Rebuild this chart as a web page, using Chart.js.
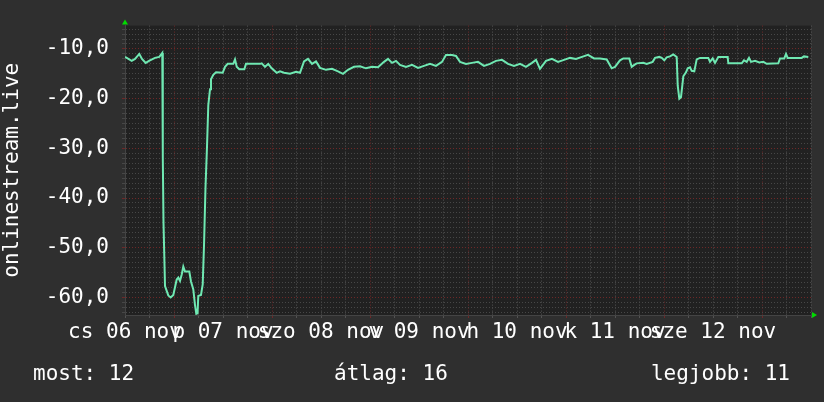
<!DOCTYPE html>
<html><head><meta charset="utf-8">
<script src="https://cdn.jsdelivr.net/npm/chart.js@4.4.1/dist/chart.umd.min.js"></script>
<style>html,body{margin:0;padding:0;background:#2f2f2f;overflow:hidden}canvas{display:block}</style>
</head><body>
<canvas id="c" width="824" height="402"></canvas>
<script>
// time in hours since Thu 06 Nov 12:00
const hours = [0,1.64,2.45,3.5,4.16,5.07,5.88,7.35,8.4,9.13,9.26,9.43,9.8,10.6,11.19,11.83,12.66,13.05,13.47,13.89,14.28,14.69,15.75,16.16,16.73,17.14,17.46,17.76,17.95,18.61,19.03,19.35,19.71,20.08,20.4,20.82,21.06,21.62,22.29,23.93,24.49,25.15,26.52,26.94,27.36,27.99,29.22,29.63,33.06,33.48,34.29,35.09,35.93,37.15,37.96,
38.94,40.41,41.88,42.86,43.84,44.82,45.8,46.78,47.76,49.22,50.69,52.16,53.39,54.61,56.08,57.55,59.02,60.49,61.96,63.43,64.41,65.39,66.37,67.35,68.82,70.29,71.76,73.22,74.69,76.16,77.63,78.61,80.08,81.06,82.04,83.51,84.98,86.45,87.92,89.39,90.86,92.33,93.8,95.27,96.74,98.2,99.67,100.65,101.63,103.1,104.57,106.04,107.51,108.98,110.45,111.92,113.39,114.86,
116.33,117.97,119.19,120,121.22,122.03,123.5,124.09,124.73,125.31,126.93,127.76,129.23,129.8,130.85,131.44,132.07,132.66,133.47,134.28,135.11,135.36,135.75,136.16,136.48,136.73,137.39,137.81,138.37,138.78,139.42,140.01,140.82,142.85,143.27,143.93,144.49,145.3,147.6,147.75,151.03,151.59,152.25,152.82,153.31,154.29,155.34,156.32,157.15,159.99,160.41,161.46,161.88,162.29,165.72,166.28,167.34];
const values = [-11.6,-12.4,-12.0,-11.0,-12.0,-12.8,-12.4,-11.8,-11.6,-10.8,-32.0,-45,-57.7,-59.6,-60.0,-59.5,-56.4,-56.0,-56.7,-55.4,-53.8,-54.8,-54.8,-56.8,-58.4,-61.5,-63.3,-63.2,-59.7,-59.5,-57.4,-49.5,-38,-29.7,-21.3,-18.1,-16.1,-15.2,-14.7,-14.8,-13.6,-13.0,-13.0,-12.1,-13.6,-14.1,-14.1,-13.0,-13.0,-12.9,-13.6,-13.0,-13.9,-14.8,-14.5,
-14.8,-15.0,-14.6,-14.8,-12.5,-12.0,-13.0,-12.5,-13.8,-14.2,-14.0,-14.5,-15.0,-14.2,-13.6,-13.5,-13.9,-13.6,-13.7,-12.6,-12.0,-12.8,-12.4,-13.2,-13.6,-13.2,-13.8,-13.4,-13.0,-13.4,-12.6,-11.2,-11.2,-11.4,-12.6,-13.0,-12.8,-12.6,-13.4,-13.0,-12.4,-12.2,-13.0,-13.4,-13.0,-13.6,-12.8,-12.2,-14.0,-12.4,-12.0,-12.6,-12.2,-11.8,-12.0,-11.6,-11.2,-11.9,
-11.9,-12.1,-13.9,-13.6,-12.3,-11.9,-11.9,-13.6,-13.2,-12.9,-12.8,-13.0,-12.6,-11.8,-11.6,-11.8,-12.3,-11.7,-11.5,-11.1,-11.6,-17.4,-20.0,-19.7,-17.4,-15.5,-14.7,-13.9,-13.7,-14.4,-14.5,-12.1,-11.8,-11.8,-12.6,-11.9,-12.8,-11.6,-11.6,-12.9,-12.9,-12.3,-12.6,-11.8,-12.6,-12.4,-12.7,-12.6,-13.0,-12.9,-11.9,-11.9,-11.0,-11.8,-11.8,-11.5,-11.6];

const dayLabels = ['cs 06 nov','p 07 nov','szo 08 nov','v 09 nov','h 10 nov','k 11 nov','sze 12 nov'];
const dayLabelHours = [0,24,48,72,96,120,144];
const yTickValues = [-10,-20,-30,-40,-50,-60];
const yTickLabels = ['-10,0','-20,0','-30,0','-40,0','-50,0','-60,0'];
const axisTitle = 'onlinestream.live';
const legendTexts = ['most: 12','átlag: 16','legjobb: 11'];

const FONT = 'DejaVu Sans Mono';
const MINOR_H = '#474747';
const MINOR_V = '#535353';
const MAJOR = '#6e2828';

const bgPlugin = {
  id: 'bg',
  beforeDraw(chart) {
    const {ctx, chartArea: a} = chart;
    ctx.save();
    ctx.fillStyle = '#2f2f2f';
    ctx.fillRect(0, 0, chart.width, chart.height);
    ctx.fillStyle = '#212121';
    ctx.fillRect(a.left, a.top, a.right - a.left, a.bottom - a.top);
    ctx.restore();
  },
  afterDraw(chart) {
    const {ctx, chartArea: a} = chart;
    ctx.save();
    ctx.fillStyle = '#00dd00';
    ctx.beginPath();
    ctx.moveTo(a.left - 3, a.top - 1);
    ctx.lineTo(a.left + 3, a.top - 1);
    ctx.lineTo(a.left, a.top - 6);
    ctx.closePath(); ctx.fill();
    ctx.beginPath();
    ctx.moveTo(a.right + 1, a.bottom - 3);
    ctx.lineTo(a.right + 1, a.bottom + 3);
    ctx.lineTo(a.right + 6, a.bottom);
    ctx.closePath(); ctx.fill();
    ctx.fillStyle = '#ffffff';
    ctx.font = '21px "' + FONT + '"';
    ctx.textBaseline = 'middle';
    ctx.textAlign = 'left';
    ctx.fillText(legendTexts[0], 33, 375);
    ctx.fillText(legendTexts[1], 334, 375);
    ctx.textAlign = 'right';
    ctx.fillText(legendTexts[2], 790, 375);
    ctx.restore();
  }
};

new Chart(document.getElementById('c'), {
  type: 'line',
  data: {
    datasets: [{
      data: hours.map((h, i) => ({x: h, y: values[i]})),
      borderColor: '#6fe8b2',
      borderWidth: 2,
      pointRadius: 0,
      tension: 0,
      fill: false
    }]
  },
  options: {
    responsive: false,
    animation: false,
    events: [],
    layout: {padding: {top: 14, right: 13, left: 0, bottom: 0}},
    plugins: {legend: {display: false}, tooltip: {enabled: false}},
    scales: {
      x: {
        type: 'linear', min: 0, max: 168,
        afterFit(s) { s.height = 87; },
        grid: {
          color: (c) => ((c.tick.value - 12) % 24 === 0 ? MAJOR : MINOR_V),
          lineWidth: 1, drawTicks: true, tickLength: 3
        },
        border: {display: true, color: '#444444', dash: [1, 2]},
        ticks: {
          stepSize: 6, maxTicksLimit: 100, autoSkip: false, maxRotation: 0, minRotation: 0,
          includeBounds: false, padding: 2, color: '#ffffff',
          font: {family: FONT, size: 21},
          callback: (v) => { const i = dayLabelHours.indexOf(Math.round(v)); return i >= 0 ? dayLabels[i] : ''; }
        }
      },
      y: {
        type: 'linear', min: -63.54, max: -5.3,
        afterFit(s) { s.width = 125; },
        grid: {
          color: (c) => (Math.round(c.tick.value) % 10 === 0 ? MAJOR : MINOR_H),
          lineWidth: 1, drawTicks: true, tickLength: 3
        },
        border: {display: true, color: '#444444', dash: [1, 2]},
        title: {display: true, text: axisTitle, color: '#ffffff', font: {family: FONT, size: 21}, padding: {top: 0, bottom: 0}},
        ticks: {
          stepSize: 1, maxTicksLimit: 1000, autoSkip: false, includeBounds: false, padding: 13, color: '#ffffff',
          font: {family: FONT, size: 21},
          callback: (v) => { const i = yTickValues.indexOf(Math.round(v)); return i >= 0 ? yTickLabels[i] : ''; }
        }
      }
    }
  },
  plugins: [bgPlugin]
});
</script>
</body></html>
